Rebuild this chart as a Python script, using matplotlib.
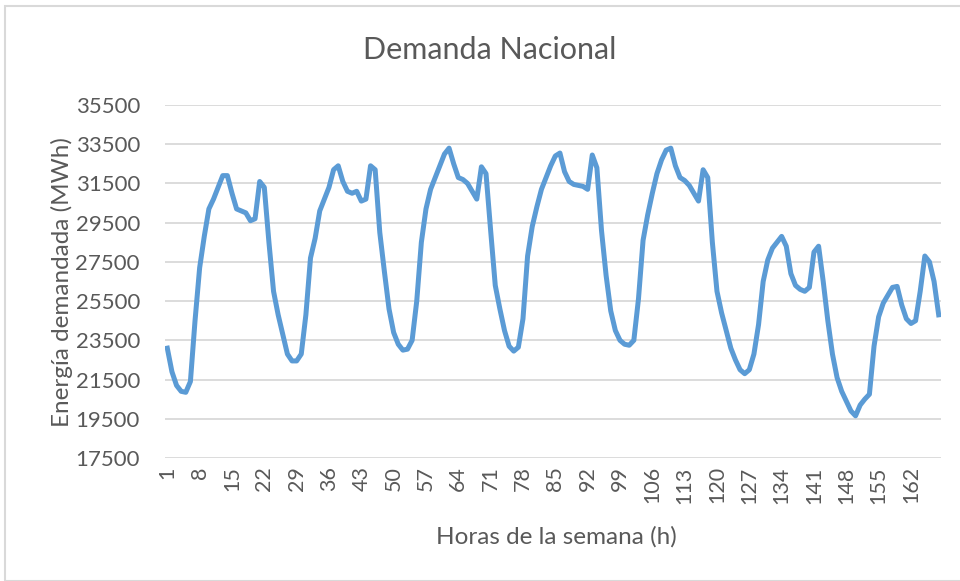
import matplotlib.pyplot as plt
from matplotlib.patches import Rectangle

# demanda horaria (MWh), horas 1..168
horas = list(range(1, 169))
demanda = [
    23100, 21900, 21200, 20900, 20850, 21400, 24500, 27200, 28800, 30200,
    30700, 31300, 31900, 31900, 31000, 30200, 30100, 30000, 29600, 29700,
    31600, 31300, 28500, 26000, 24800, 23800, 22800, 22450, 22450, 22800,
    24800, 27700, 28700, 30100, 30700, 31300, 32200, 32400, 31600, 31100,
    31000, 31100, 30600, 30700, 32400, 32200, 29000, 27000, 25100, 23900,
    23300, 23000, 23050, 23500, 25500, 28500, 30200, 31200, 31800, 32400,
    33000, 33300, 32500, 31800, 31700, 31500, 31100, 30700, 32350, 32000,
    29100, 26300, 25100, 24000, 23200, 22950, 23150, 24600, 27800, 29300,
    30300, 31200, 31800, 32400, 32900, 33050, 32100, 31600, 31450, 31400,
    31350, 31200, 32950, 32300, 29100, 26800, 25000, 24000, 23500, 23300,
    23250, 23500, 25600, 28600, 29900, 31000, 32000, 32700, 33200, 33300,
    32400, 31800, 31650, 31400, 31000, 30600, 32200, 31800, 28500, 26000,
    24900, 24000, 23100, 22500, 22000, 21800, 22000, 22800, 24300, 26500,
    27600, 28200, 28500, 28800, 28300, 26900, 26300, 26100, 26000, 26200,
    28000, 28300, 26500, 24500, 22800, 21600, 20900, 20400, 19900, 19650,
    20200, 20500, 20750, 23200, 24700, 25400, 25800, 26200, 26250, 25300,
    24600, 24360, 24500, 26000, 27800, 27500, 26500, 24800,
]
xticks = list(range(1, 169, 7))
yticks = list(range(17500, 35501, 2000))

plt.rcParams['font.family'] = ['Lato', 'DejaVu Sans']
gris = '#595959'

fig = plt.figure(figsize=(9.6, 5.81), dpi=100)
fig.patches.append(Rectangle((5 / 960, 0), 1.2, 1 - 6 / 581, transform=fig.transFigure,
                             fill=False, edgecolor='#D9D9D9', linewidth=1.5))
ax = fig.add_axes([165 / 960, 1 - 458 / 581, (941 - 165) / 960, (458 - 105) / 581])

ax.plot(horas, demanda, color='#5B9BD5', linewidth=3.6, solid_joinstyle='round')

ax.set_xlim(0.5, 168.5)
ax.set_ylim(17500, 35500)
ax.set_yticks(yticks)
ax.set_xticks(xticks)
ax.set_xticklabels([str(t) for t in xticks], rotation=90)
ax.grid(axis='y', color='#D9D9D9', linewidth=1.3)
ax.set_axisbelow(True)
for s in ax.spines.values():
    s.set_visible(False)
ax.tick_params(length=0, colors=gris)
ax.tick_params(axis='y', pad=18, labelsize=16)
ax.tick_params(axis='x', pad=6, labelsize=15.5)

fig.text(490 / 960, 1 - 50 / 581, 'Demanda Nacional', ha='center', va='center',
         fontsize=22, color=gris)
fig.text(62 / 960, 1 - 282 / 581, 'Energía demandada (MWh)', ha='center', va='center',
         rotation=90, fontsize=17.5, color=gris)
fig.text(556 / 960, 1 - 537 / 581, 'Horas de la semana (h)', ha='center', va='center',
         fontsize=17.5, color=gris)

fig.savefig('out.png', dpi=100, facecolor='white')
